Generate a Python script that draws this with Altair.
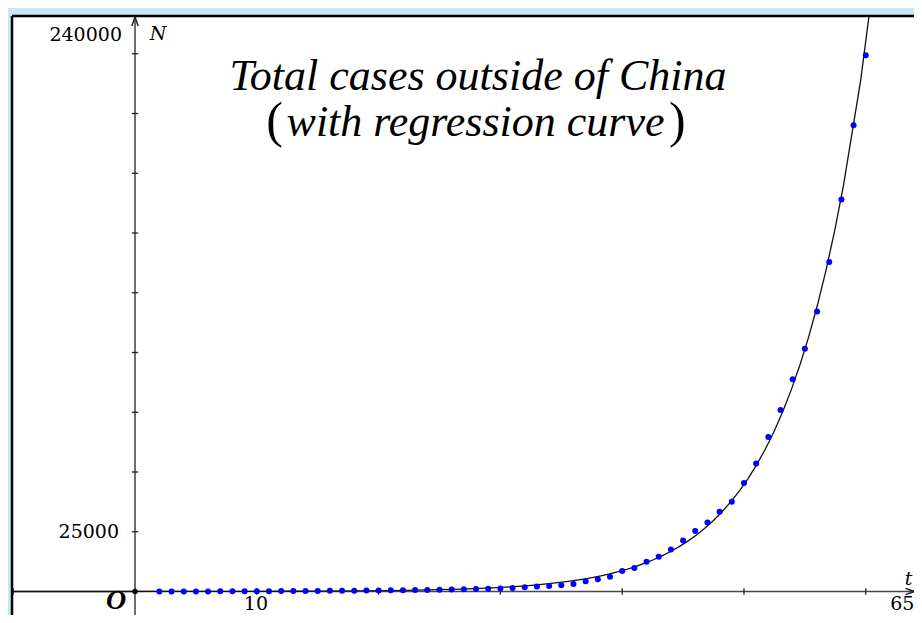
import altair as alt
import pandas as pd

# ---- data ----
t_values = list(range(2, 61))
cases = [10, 15, 25, 40, 50, 60, 80, 100, 120, 140, 160, 180, 200, 250, 300,
         320, 360, 390, 450, 500, 520, 580, 650, 720, 800, 900, 1000, 1150,
         1300, 1500, 1800, 2100, 2300, 2600, 3100, 4300, 5100, 6200, 8600,
         9800, 12400, 14500, 17600, 21300, 25300, 28900, 33400, 37600, 45400,
         53600, 64600, 75900, 88800, 101600, 117200, 137900, 164000, 195100,
         224400]

y_ticks = [25000, 50000, 75000, 100000, 125000, 150000, 175000, 200000, 225000]
x_ticks = [-10, 10, 20, 30, 40, 50, 60]

X_DOMAIN = [-10.1, 63.96]
Y_DOMAIN = [-9830, 240800]
W, H = 902, 599

df = pd.DataFrame({"t": t_values, "N": cases})

xs = alt.Scale(domain=X_DOMAIN, nice=False, zero=False)
ys = alt.Scale(domain=Y_DOMAIN, nice=False, zero=False)
X = lambda f: alt.X(f, type="quantitative", scale=xs, axis=None)
Y = lambda f: alt.Y(f, type="quantitative", scale=ys, axis=None)

AXIS_COLOR = "#4a4a4a"

axes_df = pd.DataFrame({
    "x": [0, X_DOMAIN[0]], "x2": [0, X_DOMAIN[1]],
    "y": [Y_DOMAIN[0], 0], "y2": [Y_DOMAIN[1], 0],
})
axes = alt.Chart(axes_df).mark_rule(color=AXIS_COLOR, strokeWidth=1.6).encode(
    x=X("x"), x2="x2", y=Y("y"), y2="y2")

yt = alt.Chart(pd.DataFrame({"N": y_ticks, "x": [0] * len(y_ticks)})).mark_point(
    shape="M-1,0L1,0", size=40, filled=False, color="#222", strokeWidth=1.3, opacity=1
).encode(x=X("x"), y=Y("N"))

xt = alt.Chart(pd.DataFrame({"t": x_ticks, "y": [0] * len(x_ticks)})).mark_point(
    shape="M0,-1L0,1", size=40, filled=False, color="#222", strokeWidth=1.3, opacity=1
).encode(x=X("t"), y=Y("y"))

arrow_up = alt.Chart(pd.DataFrame({"x": [0], "y": [Y_DOMAIN[1] - 2600]})).mark_point(
    shape="M-0.6,0.7L0,-1L0.6,0.7", size=110, filled=False, color="#222",
    strokeWidth=1.5, opacity=1
).encode(x=X("x"), y=Y("y"))

arrow_right = alt.Chart(pd.DataFrame({"x": [X_DOMAIN[1] - 0.4], "y": [0]})).mark_point(
    shape="M-0.7,-0.6L1,0L-0.7,0.6", size=110, filled=False, color="#222",
    strokeWidth=1.5, opacity=1
).encode(x=X("x"), y=Y("y"))

curve = alt.Chart(df).transform_regression(
    "t", "N", method="exp", extent=[X_DOMAIN[0], 61]
).mark_line(color="#111", strokeWidth=1.3, clip=True).encode(x=X("t"), y=Y("N"))

pts = alt.Chart(df).mark_circle(color="#0000ff", size=36, opacity=1).encode(
    x=X("t"), y=Y("N"))

origin = alt.Chart(pd.DataFrame({"x": [0], "y": [0]})).mark_circle(
    color="black", size=30, opacity=1).encode(x=X("x"), y=Y("y"))

border_left = alt.Chart(pd.DataFrame({"a": [0]})).mark_rule(
    color="black", strokeWidth=2.5).encode(
    x=alt.value(0), y=alt.value(0), y2=alt.value(H))
border_top = alt.Chart(pd.DataFrame({"a": [0]})).mark_rule(
    color="black", strokeWidth=2.5).encode(
    y=alt.value(0), x=alt.value(0), x2=alt.value(W))

SERIF = "Liberation Serif"
AXFONT = "DejaVu Serif"


def label(text, x, y, size, align="center", style="normal", weight="normal",
          baseline="middle", font=SERIF):
    return alt.Chart(pd.DataFrame({"x": [x], "y": [y], "s": [text]})).mark_text(
        font=font, fontSize=size, align=align, baseline=baseline,
        fontStyle=style, fontWeight=weight, color="black"
    ).encode(x=X("x"), y=Y("y"), text="s:N")


texts = [
    label("240000", -1.07, 232800, 19, align="right", font=AXFONT),
    label("25000", -1.31, 25000, 19, align="right", font=AXFONT),
    label("10", 9.93, -5230, 19, font=AXFONT),
    label("65", 63.0, -5230, 19, font=AXFONT),
    label("N", 1.9, 233300, 19, style="italic", font=AXFONT),
    label("t", 63.2, 5300, 19, align="left", style="italic", font=AXFONT),
    label("O", -1.56, -4100, 28, style="italic", weight="bold"),
    label("Total cases outside of China", 28.16, 209800, 44, style="italic",
          baseline="alphabetic"),
    label("with regression curve", 27.96, 190600, 44, style="italic",
          baseline="alphabetic"),
    label("(", 12.15, 190000, 50, align="right", baseline="alphabetic"),
    label(")", 43.85, 190000, 50, align="left", baseline="alphabetic"),
]

chart = alt.layer(
    axes, yt, xt, arrow_up, arrow_right, curve, pts, origin, *texts,
    border_left, border_top
).properties(
    width=W, height=H, background="#c5e9f8",
    padding={"left": 4, "top": 8, "right": 0, "bottom": 0},
    autosize=alt.AutoSizeParams(type="none"),
).configure_view(fill="white", stroke=None)

chart.save("out.html", embed_options={"renderer": "svg", "actions": False})
